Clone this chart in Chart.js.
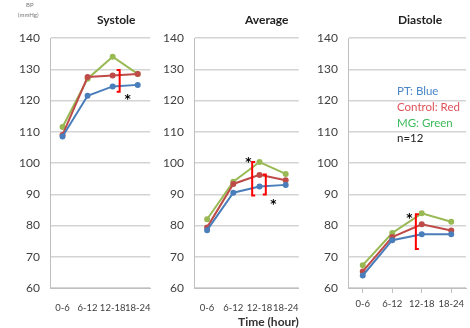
<!DOCTYPE html>
<html>
<head>
<meta charset="utf-8">
<script src="https://cdn.jsdelivr.net/npm/chart.js@4.4.0/dist/chart.umd.min.js"></script>
<style>
  body { margin: 0; background: #fff; font-family: Lato, sans-serif; }
  #wrap { position: relative; width: 470px; height: 328px; overflow: hidden; }
  .panel { position: absolute; top: 0; height: 328px; }
  .txt { position: absolute; white-space: nowrap; }
  .ttl { position: absolute; top: 12px; font-size: 12px; font-weight: bold; color: #222; white-space: nowrap; }
</style>
</head>
<body>
<div id="wrap">
  <div class="panel" style="left:0;width:160px"><canvas id="sys"></canvas></div>
  <div class="panel" style="left:150px;width:158px"><canvas id="avg"></canvas></div>
  <div class="panel" style="left:300px;width:170px"><canvas id="dia"></canvas></div>

  <div class="ttl" style="left:97px">Systole</div>
  <div class="ttl" style="left:245px">Average</div>
  <div class="ttl" style="left:398px">Diastole</div>

  <div class="txt" style="left:26px;top:1px;font-size:6px;color:#777">BP</div>
  <div class="txt" style="left:18px;top:11px;font-size:6px;color:#777">(mmHg)</div>
  <div class="txt" style="left:238px;top:314px;font-size:12px;font-weight:bold;color:#333">Time (hour)</div>

  <div class="txt" style="left:397px;top:84px;font-size:11.5px;color:#4a86c8">PT: Blue</div>
  <div class="txt" style="left:397px;top:100px;font-size:11.5px;color:#e0525a">Control: Red</div>
  <div class="txt" style="left:397px;top:116px;font-size:11.5px;color:#3dba5c">MG: Green</div>
  <div class="txt" style="left:397px;top:131px;font-size:11.5px;color:#222">n=12</div>
</div>

<script>
const periods = ['0-6', '6-12', '12-18', '18-24'];
const yTicks = [60, 70, 80, 90, 100, 110, 120, 130, 140];

// systolic
const sysPT = [108.5, 121.5, 124.5, 125];
const sysControl = [109, 127.5, 128, 128.5];
const sysMG = [111.5, 127, 134, 128.5];

// mean
const avgPT = [78.5, 90.5, 92.5, 93];
const avgControl = [79.4, 93.3, 96.2, 94.5];
const avgMG = [82, 94, 100.3, 96.5];

// diastolic
const diaPT = [64, 75.3, 77.2, 77.2];
const diaControl = [65.3, 76.3, 80.4, 78.4];
const diaMG = [67.3, 77.6, 83.9, 81.2];

// significance marks: [category position, value]
const sysStars = [[2.6, 120.8]];
const avgStars = [[1.58, 100.6], [2.53, 87.4]];
const diaStars = [[1.58, 82.8]];
// brackets: [category position, from, to, side]
const sysBrackets = [[2.28, 122.8, 129.8, 'right']];
const avgBrackets = [[1.72, 89.6, 100.3, 'left'], [2.24, 89.9, 96.3, 'right']];
const diaBrackets = [[1.8, 72.5, 83.6, 'left']];

const BLUE = '#4a7ebb', RED = '#be4b48', GREEN = '#98b954';

const marks = {
  id: 'marks',
  afterDatasetsDraw(chart, args, opts) {
    const ctx = chart.ctx, x = chart.scales.x, y = chart.scales.y;
    ctx.save();
    ctx.strokeStyle = '#ff0000';
    ctx.lineWidth = 2;
    (opts.brackets || []).forEach(b => {
      const px = x.getPixelForValue(b[0]);
      const y1 = y.getPixelForValue(b[2]), y2 = y.getPixelForValue(b[1]);
      const d = b[3] === 'left' ? 3 : -3;
      ctx.beginPath();
      ctx.moveTo(px + d, y1);
      ctx.lineTo(px, y1);
      ctx.lineTo(px, y2);
      ctx.lineTo(px + d, y2);
      ctx.stroke();
    });
    ctx.fillStyle = '#000';
    ctx.font = 'bold 12px "DejaVu Sans"';
    ctx.textAlign = 'center';
    ctx.textBaseline = 'middle';
    (opts.stars || []).forEach(s => {
      ctx.fillText('*', x.getPixelForValue(s[0]), y.getPixelForValue(s[1]) + 2);
    });
    ctx.restore();
  }
};

function line(label, data, color) {
  return {
    label: label, data: data, borderColor: color, backgroundColor: color,
    borderWidth: 2, pointRadius: 2, pointHoverRadius: 2, tension: 0
  };
}

function makeChart(id, pt, ctl, mg, yWidth, rightPad, xTicks, stars, brackets) {
  new Chart(document.getElementById(id), {
    type: 'line',
    data: {
      labels: periods,
      datasets: [line('PT', pt, BLUE), line('Control', ctl, RED), line('MG', mg, GREEN)]
    },
    options: {
      responsive: true,
      maintainAspectRatio: false,
      animation: false,
      layout: { padding: { top: 38, right: rightPad, bottom: 0, left: 0 } },
      plugins: {
        legend: { display: false },
        tooltip: { enabled: false },
        marks: { stars: stars, brackets: brackets }
      },
      scales: {
        x: {
          offset: true,
          grid: { display: xTicks, drawOnChartArea: false, tickLength: 5, color: '#bfbfbf' },
          border: { display: true, color: '#bfbfbf' },
          ticks: { color: '#404040', font: { family: 'Lato', size: 9.5 }, padding: xTicks ? 5 : 9, maxRotation: 0, autoSkip: false },
          afterFit: s => { s.height = 40; }
        },
        y: {
          min: 60, max: 140,
          afterBuildTicks: s => { s.ticks = yTicks.map(v => ({ value: v })); },
          grid: { color: '#d4d4d4', lineWidth: 1.5, drawTicks: false },
          border: { display: true, color: '#bfbfbf' },
          ticks: { color: '#404040', font: { family: 'Lato', size: 12 }, padding: 10 },
          afterFit: s => { s.width = yWidth; }
        }
      }
    },
    plugins: [marks]
  });
}

makeChart('sys', sysPT, sysControl, sysMG, 50, 3, false, sysStars, sysBrackets);
makeChart('avg', avgPT, avgControl, avgMG, 44, 3, false, avgStars, avgBrackets);
makeChart('dia', diaPT, diaControl, diaMG, 48, 0, true, diaStars, diaBrackets);
</script>
</body>
</html>
